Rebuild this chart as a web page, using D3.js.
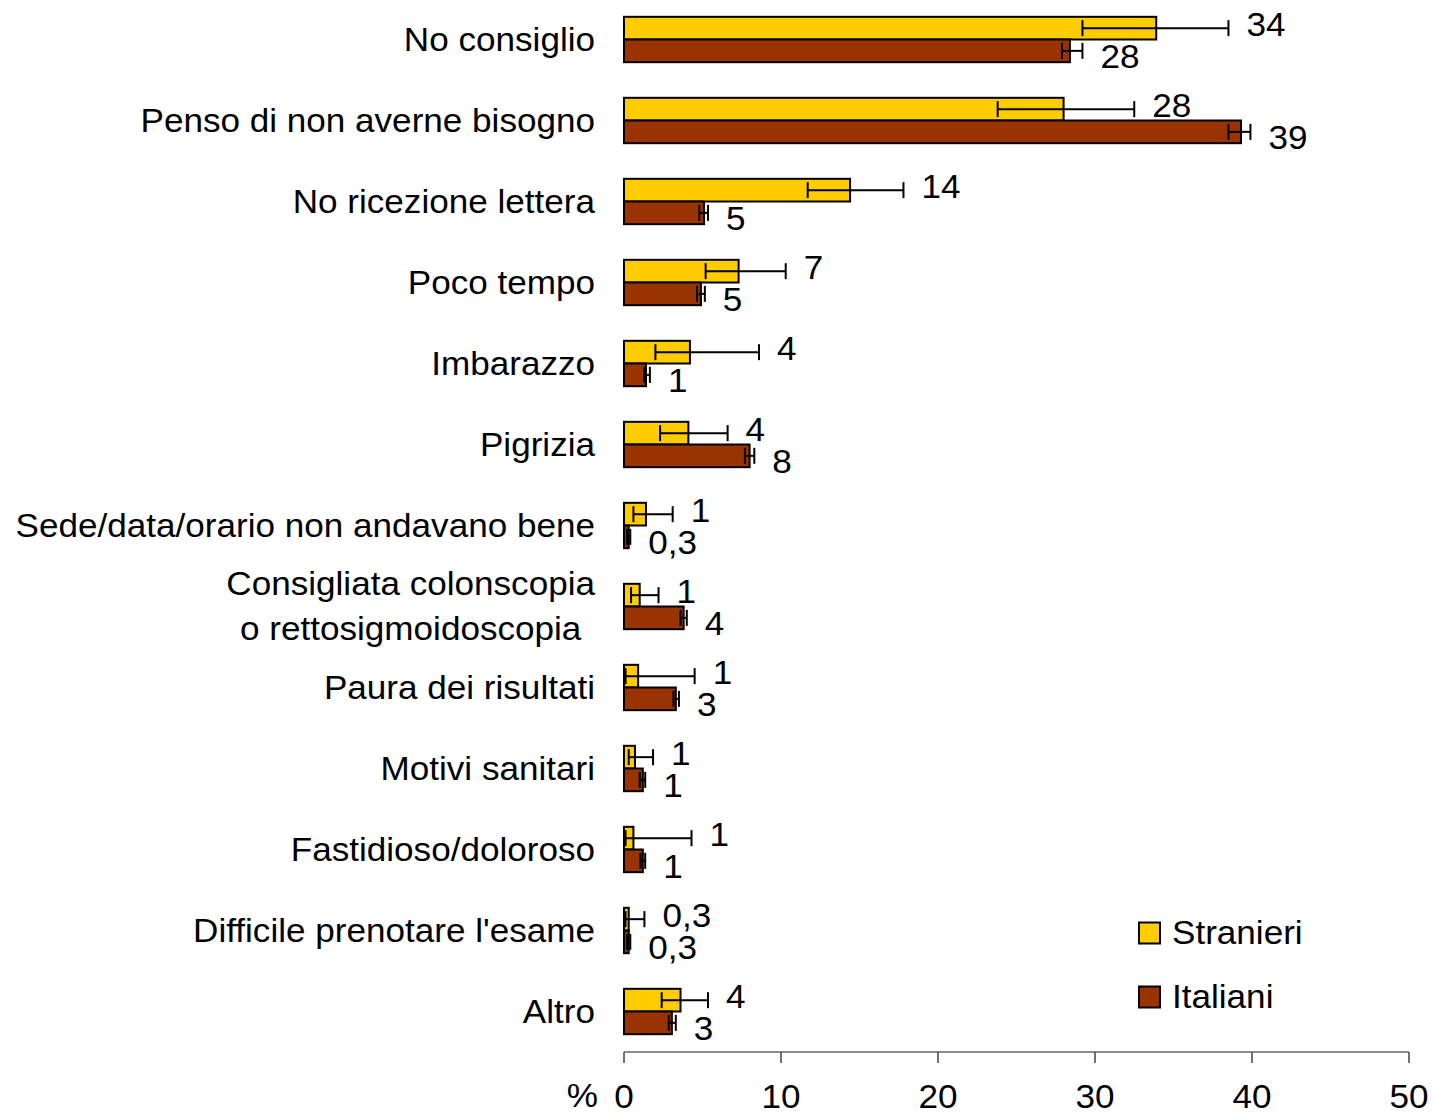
<!DOCTYPE html>
<html><head><meta charset="utf-8">
<script src="https://cdn.jsdelivr.net/npm/d3@7"></script>
<style>body{margin:0;background:#fff}</style>
</head><body>
<svg id="c" width="1434" height="1118"></svg>
<script>
const categories = [
  "No consiglio",
  "Penso di non averne bisogno",
  "No ricezione lettera",
  "Poco tempo",
  "Imbarazzo",
  "Pigrizia",
  "Sede/data/orario non andavano bene",
  "Consigliata colonscopia\no rettosigmoidoscopia",
  "Paura dei risultati",
  "Motivi sanitari",
  "Fastidioso/doloroso",
  "Difficile prenotare l'esame",
  "Altro"
];
const seriesNames = ["Stranieri", "Italiani"];
const stranieri     = [33.9, 28.0, 14.4, 7.3, 4.2, 4.1, 1.4, 1.0, 0.9, 0.7, 0.6, 0.3, 3.6];
const stranieriLow  = [29.2, 23.8, 11.7, 5.2, 2.0, 2.3, 0.6, 0.45, 0.1, 0.3, 0.1, 0.1, 2.4];
const stranieriHigh = [38.5, 32.5, 17.8, 10.3, 8.6, 6.6, 3.1, 2.2, 4.5, 1.85, 4.3, 1.3, 5.35];
const italiani      = [28.4, 39.3, 5.1, 4.9, 1.4, 8.0, 0.3, 3.8, 3.3, 1.2, 1.2, 0.3, 3.05];
const italianiLow   = [27.9, 38.5, 4.8, 4.65, 1.3, 7.7, 0.2, 3.6, 3.15, 1.0, 1.05, 0.2, 2.85];
const italianiHigh  = [29.2, 39.9, 5.35, 5.15, 1.65, 8.3, 0.4, 4.0, 3.5, 1.35, 1.35, 0.4, 3.3];
const xTicks = [0, 10, 20, 30, 40, 50];
const colors = ["#FFCC00", "#993300"];

const svg = d3.select("#c");
const FONT = "'Liberation Sans', Arial, sans-serif";
const FS = 32.5, SX = 1.08;

const x = d3.scaleLinear().domain([0, 50]).range([624, 1409]);
const y = d3.scaleBand().domain(categories).range([-1, 1052]).paddingInner(0.44).paddingOuter(0.22);
const ys = d3.scaleBand().domain(seriesNames).range([0, y.bandwidth()]);

const series = [
  {name: "Stranieri", v: stranieri, lo: stranieriLow, hi: stranieriHigh, dy: -4},
  {name: "Italiani", v: italiani, lo: italianiLow, hi: italianiHigh, dy: 6}
];
const fmt = v => v < 0.5 ? d3.format(".1f")(v).replace(".", ",") : String(Math.round(v));

function txt(g, s, tx, ty, anchor) {
  const t = g.append("g").attr("transform", `translate(${tx},${ty}) scale(${SX},1)`)
    .append("text").attr("x", 0).attr("y", 0).attr("dy", "0.35em")
    .attr("text-anchor", anchor || "start")
    .style("font-family", FONT).style("font-size", FS + "px").attr("fill", "#000").text(s);
  return t;
}

// bars
series.forEach((s, si) => {
  const g = svg.append("g");
  g.selectAll("rect").data(categories).join("rect")
    .attr("x", x(0))
    .attr("y", (c) => y(c) + ys(s.name))
    .attr("width", (c, i) => x(s.v[i]) - x(0))
    .attr("height", ys.bandwidth())
    .attr("fill", colors[si]).attr("stroke", "#000").attr("stroke-width", 2);
});
// error bars + labels
series.forEach((s, si) => {
  const g = svg.append("g");
  categories.forEach((c, i) => {
    const cy = y(c) + ys(s.name) + ys.bandwidth() / 2;
    g.append("line").attr("x1", x(s.lo[i])).attr("x2", x(s.hi[i])).attr("y1", cy).attr("y2", cy)
      .attr("stroke", "#000").attr("stroke-width", 2);
    [s.lo[i], s.hi[i]].forEach(v => {
      g.append("line").attr("x1", x(v)).attr("x2", x(v)).attr("y1", cy - 8).attr("y2", cy + 8)
        .attr("stroke", "#000").attr("stroke-width", 2);
    });
    txt(svg, fmt(s.v[i]), x(s.hi[i]) + 18, cy + s.dy, "start");
  });
});

// category labels
categories.forEach(c => {
  const cy = y(c) + y.bandwidth() / 2;
  const lines = c.split("\n");
  if (lines.length === 1) {
    txt(svg, c, 595, cy, "end");
  } else {
    const nodes = lines.map((l, k) => txt(svg, l, 0, cy + (k - (lines.length - 1) / 2) * 45, "middle"));
    const w = d3.max(nodes, n => n.node().getComputedTextLength()) * SX;
    nodes.forEach((n, k) => {
      d3.select(n.node().parentNode).attr("transform",
        `translate(${595 - w / 2},${cy + (k - (lines.length - 1) / 2) * 45}) scale(${SX},1)`);
    });
  }
});

// x axis
const ax = svg.append("g").attr("transform", "translate(0,1052)");
ax.append("line").attr("x1", x(0)).attr("x2", x(50)).attr("y1", 0).attr("y2", 0)
  .attr("stroke", "#666").attr("stroke-width", 1.5);
ax.selectAll(".tk").data(xTicks).join("line").attr("class", "tk")
  .attr("x1", d => x(d)).attr("x2", d => x(d)).attr("y1", 0).attr("y2", 11)
  .attr("stroke", "#444").attr("stroke-width", 1.5);
xTicks.forEach(t => txt(svg, String(t), x(t), 1097, "middle"));
txt(svg, "%", 598, 1096, "end");

// legend
const lg = svg.append("g");
seriesNames.forEach((n, i) => {
  const ly = 933 + i * 64;
  lg.append("rect").attr("x", 1139).attr("y", ly - 10.5).attr("width", 21).attr("height", 21)
    .attr("fill", colors[i]).attr("stroke", "#000").attr("stroke-width", 2);
  txt(lg, n, 1172, ly, "start");
});
</script>
</body></html>
